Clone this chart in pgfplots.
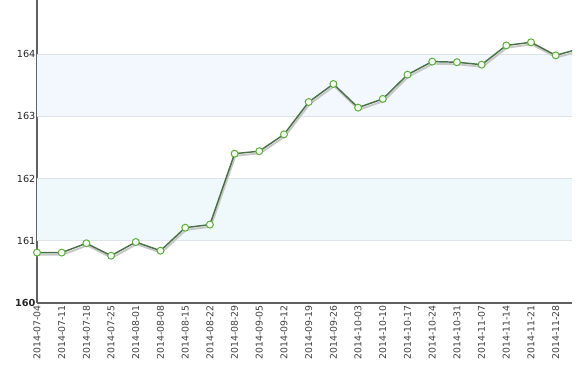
\documentclass[border=0pt]{standalone}
\usepackage{pgfplots}
\pgfplotsset{compat=1.18}
\usepackage{fontspec}
\setmainfont{DejaVu Sans}
\definecolor{bandA}{HTML}{F2F8FD}
\definecolor{bandB}{HTML}{EFF8FA}
\definecolor{gridc}{HTML}{DDE3E8}
\definecolor{linec}{HTML}{4A7148}
\definecolor{markc}{HTML}{5DAE3F}
\definecolor{markf}{HTML}{F3FCEF}
\definecolor{axc}{HTML}{606060}
\begin{document}
\begin{tikzpicture}
\path[use as bounding box] (0pt,0pt) rectangle (434.25pt,274.5pt);
\begin{axis}[
  at={(27.75pt,47.25pt)}, anchor=south west,
  scale only axis, width=401.25pt, height=227.25pt,
  xmin=0, xmax=21.66, ymin=160, ymax=164.87,
  axis x line*=bottom, axis y line*=left,
  axis line style={axc, line width=1.7pt, -},
  ytick={160,161,162,163,164},
  yticklabels={\textbf{160},161,162,163,164},
  xtick={0,...,21},
  xticklabels={2014-07-04,2014-07-11,2014-07-18,2014-07-25,2014-08-01,2014-08-08,2014-08-15,2014-08-22,2014-08-29,2014-09-05,2014-09-12,2014-09-19,2014-09-26,2014-10-03,2014-10-10,2014-10-17,2014-10-24,2014-10-31,2014-11-07,2014-11-14,2014-11-21,2014-11-28},
  xticklabel style={rotate=90, anchor=east, font=\fontsize{7}{8}\selectfont, text=black!75, inner sep=1.5pt},
  yticklabel style={font=\fontsize{7.3}{8}\selectfont, text=black!85, inner sep=1pt},
  major tick length=0pt,
  /pgf/number format/assume math mode=true,
]
\addplot[fill=bandB, draw=none] coordinates {(0,161) (21.66,161) (21.66,162) (0,162)} --cycle;
\addplot[fill=bandA, draw=none] coordinates {(0,163) (21.66,163) (21.66,164) (0,164)} --cycle;
\addplot[gridc, line width=0.6pt] coordinates {(0,161) (21.66,161)};
\addplot[gridc, line width=0.6pt] coordinates {(0,162) (21.66,162)};
\addplot[gridc, line width=0.6pt] coordinates {(0,163) (21.66,163)};
\addplot[gridc, line width=0.6pt] coordinates {(0,164) (21.66,164)};
\addplot[black!22, line width=1.4pt, no marks, yshift=-1.6pt, xshift=0.6pt] coordinates {
(0,160.81)(1,160.81)(2,160.96)(3,160.76)(4,160.98)(5,160.84)(6,161.21)(7,161.26)(8,162.40)(9,162.44)(10,162.71)(11,163.23)(12,163.52)(13,163.14)(14,163.28)(15,163.67)(16,163.88)(17,163.87)(18,163.83)(19,164.14)(20,164.19)(21,163.98)(22,164.09)};
\addplot[linec, line width=1.1pt, no marks] coordinates {
(0,160.81)(1,160.81)(2,160.96)(3,160.76)(4,160.98)(5,160.84)(6,161.21)(7,161.26)(8,162.40)(9,162.44)(10,162.71)(11,163.23)(12,163.52)(13,163.14)(14,163.28)(15,163.67)(16,163.88)(17,163.87)(18,163.83)(19,164.14)(20,164.19)(21,163.98)(22,164.09)};
\addplot[only marks, mark=*, mark size=2.6pt, mark options={draw=markc, fill=markf, line width=0.75pt}] coordinates {
(0,160.81)(1,160.81)(2,160.96)(3,160.76)(4,160.98)(5,160.84)(6,161.21)(7,161.26)(8,162.40)(9,162.44)(10,162.71)(11,163.23)(12,163.52)(13,163.14)(14,163.28)(15,163.67)(16,163.88)(17,163.87)(18,163.83)(19,164.14)(20,164.19)(21,163.98)};
\end{axis}
\end{tikzpicture}
\end{document}
